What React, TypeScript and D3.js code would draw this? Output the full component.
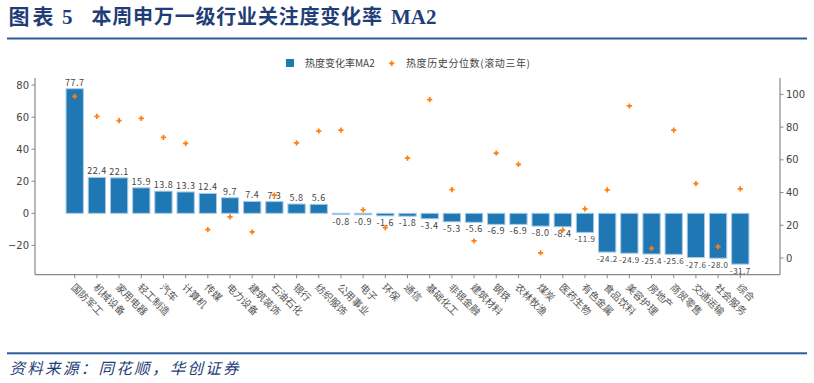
import React from "react";
import * as d3 from "d3";

const categories = ["国防军工","机械设备","家用电器","轻工制造","汽车","计算机","传媒","电力设备","建筑装饰","石油石化","银行","纺织服饰","公用事业","电子","环保","通信","基础化工","非银金融","建筑材料","钢铁","农林牧渔","煤炭","医药生物","有色金属","食品饮料","美容护理","房地产","商贸零售","交通运输","社会服务","综合"];
const heatChange = [77.7,22.4,22.1,15.9,13.8,13.3,12.4,9.7,7.4,7.3,5.8,5.6,-0.8,-0.9,-1.6,-1.8,-3.4,-5.3,-5.6,-6.9,-6.9,-8.0,-8.4,-11.9,-24.2,-24.9,-25.4,-25.6,-27.6,-28.0,-31.7];
const heatPercentile = [98.8,86.5,83.9,85.3,73.7,70.0,17.3,25.1,15.9,38.4,70.4,77.6,78.2,29.4,18.6,61.0,96.8,41.8,10.4,64.1,57.2,3.2,17.1,30.0,41.6,92.9,5.9,78.2,45.5,6.9,42.3];
const leftTicks = [-20,0,20,40,60,80];
const rightTicks = [0,20,40,60,80,100];
const legendLabels = ["热度变化率MA2","热度历史分位数(滚动三年)"];
const titleText = "本周申万一级行业关注度变化率";
const sourceText = "资料来源：同花顺，华创证券";

const CJK = "'Noto Sans CJK SC', 'DejaVu Sans', sans-serif";
const AX = "'DejaVu Sans', sans-serif";

function spaced(str: string, x0: number, step: number) {
  return Array.from(str).map((_, i) => (x0 + i * step).toFixed(1)).join(" ");
}

export default function App() {
  const L = 35, R = 780, T = 78, B = 274.7;
  const x = d3.scaleBand<string>().domain(categories).range([L, R]).paddingInner(0.22).paddingOuter(1.4);
  const yL = d3.scaleLinear().domain([-38.3, 84.4]).range([B, T]);
  const yR = d3.scaleLinear().domain([-10.2, 110]).range([B, T]);
  const bw = x.bandwidth();
  const cross = d3.symbol().type(d3.symbolCross).size(15)();
  const fmt = (v: number) => v.toFixed(1);
  const axisColor = "#888";
  const textColor = "#444";
  const navy = "#1f3e78";

  return (
    <svg width={814} height={383} style={{ position: "absolute", left: 0, top: 0, background: "#fff" }}>
      {/* title */}
      <text x={spaced("图表", 8.5, 24)} y={24} fontFamily={CJK} fontWeight={700} fontSize={21} fill={navy}>图表</text>
      <text x={62} y={24} fontFamily="'Liberation Serif', serif" fontWeight={700} fontSize={21} fill={navy}>5</text>
      <text x={spaced(titleText, 91.5, 20.8)} y={24} fontFamily={CJK} fontWeight={700} fontSize={20} fill={navy}>{titleText}</text>
      <text x={391} y={24} fontFamily="'Liberation Serif', serif" fontWeight={700} fontSize={21} fill={navy}>MA2</text>
      <rect x={7} y={37.5} width={800} height={2} fill="#2d5a9b" />
      <rect x={7} y={352.3} width={800} height={2} fill="#2d5a9b" />
      <text x={spaced(sourceText, 9.5, 17.8)} y={374} fontFamily={CJK} fontStyle="italic" fontSize={15.5} fill={navy}>{sourceText}</text>

      {/* legend */}
      <rect x={286} y={59} width={8} height={8} fill="#1f77b4" />
      <text x={305} y={67} fontFamily={CJK} fontSize={10} fill={textColor}>{legendLabels[0]}</text>
      <path d={cross} transform="translate(391.7,63.3)" fill="#ff7f0e" />
      <text x={406} y={67} fontFamily={CJK} fontSize={10} fill={textColor} style={{ letterSpacing: "0.6px" }}>{legendLabels[1]}</text>

      {/* bars */}
      {categories.map((c, i) => {
        const v = heatChange[i];
        const y0 = yL(0), y1 = yL(v);
        const xb = x(c)!;
        return (
          <g key={c}>
            <rect x={xb} y={Math.min(y0, y1)} width={bw} height={Math.max(Math.abs(y1 - y0), 0.5)}
              fill="#1f77b4" stroke="#a9cbe8" strokeWidth={1} />
            <text x={xb + bw / 2} y={v >= 0 ? y1 - 3 : y1 + 10} textAnchor="middle"
              fontFamily={CJK} fontSize={v <= -11 ? 8 : 9} fill={textColor} style={{ letterSpacing: "0.5px" }}>{fmt(v)}</text>
          </g>
        );
      })}

      {/* scatter */}
      {categories.map((c, i) => (
        <path key={"p" + c} d={cross} transform={`translate(${x(c)! + bw / 2},${yR(heatPercentile[i])})`} fill="#ff7f0e" />
      ))}

      {/* axes */}
      <line x1={L} x2={L} y1={T} y2={B} stroke={axisColor} strokeWidth={1.2} />
      <line x1={R} x2={R} y1={T} y2={B} stroke={axisColor} strokeWidth={1.2} />
      <line x1={L} x2={R} y1={B} y2={B} stroke={axisColor} strokeWidth={1.2} />
      {leftTicks.map((t) => (
        <g key={"l" + t}>
          <line x1={L - 3.5} x2={L} y1={yL(t)} y2={yL(t)} stroke={axisColor} />
          <text x={L - 6} y={yL(t)} dy="0.35em" textAnchor="end" fontFamily={AX} fontSize={10} fill={textColor}>
            {t < 0 ? "\u2212" + Math.abs(t) : t}
          </text>
        </g>
      ))}
      {rightTicks.map((t) => (
        <g key={"r" + t}>
          <line x1={R} x2={R + 3.5} y1={yR(t)} y2={yR(t)} stroke={axisColor} />
          <text x={R + 6} y={yR(t)} dy="0.35em" textAnchor="start" fontFamily={AX} fontSize={10} fill={textColor}>{t}</text>
        </g>
      ))}
      {categories.map((c) => {
        const cx = x(c)! + bw / 2;
        return (
          <g key={"x" + c}>
            <line x1={cx} x2={cx} y1={B} y2={B + 3.5} stroke={axisColor} />
            <text transform={`translate(${cx - 1},${B + 10}) rotate(45)`} textAnchor="start" dominantBaseline="central"
              fontFamily={CJK} fontSize={10} fill="#555">{c}</text>
          </g>
        );
      })}
    </svg>
  );
}
